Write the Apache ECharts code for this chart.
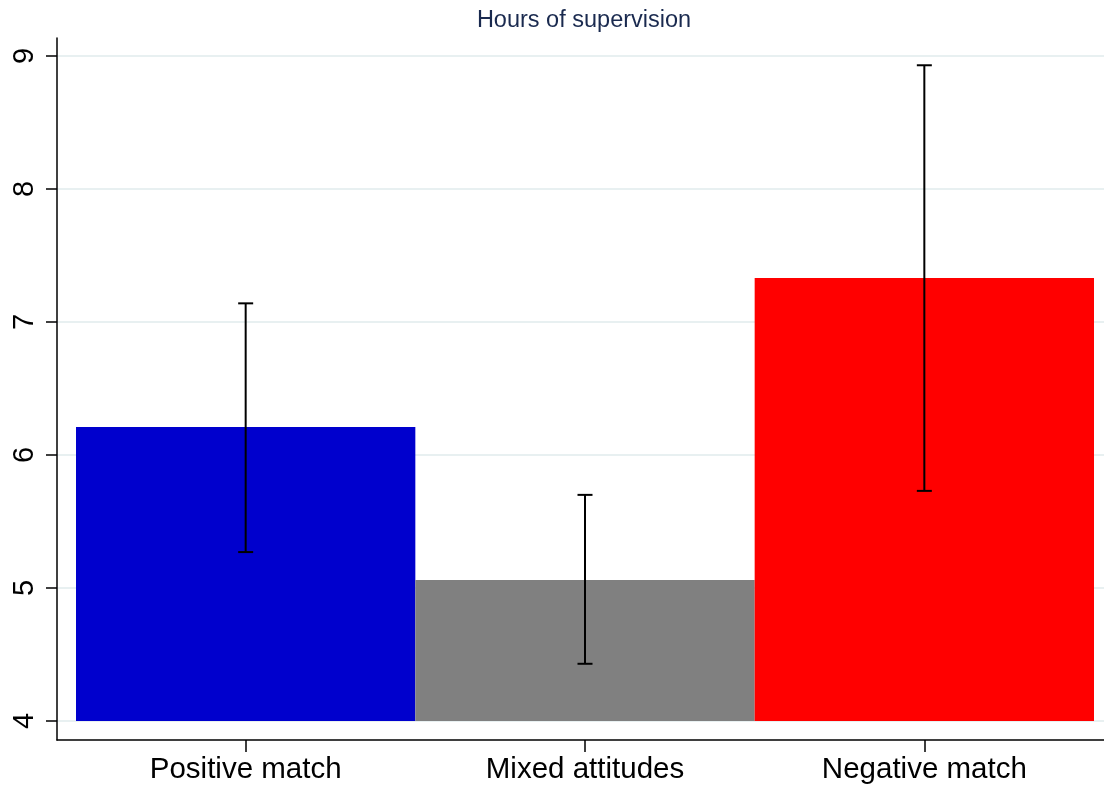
<!DOCTYPE html>
<html><head><meta charset="utf-8">
<script src="https://cdn.jsdelivr.net/npm/echarts@6/dist/echarts.min.js"></script>
<style>html,body{margin:0;padding:0;background:#fff}#c{width:1104px;height:789px}</style>
</head><body><div id="c"></div>
<script>
const title = 'Hours of supervision';
const categories = ['Positive match', 'Mixed attitudes', 'Negative match'];
const means = [6.21, 5.06, 7.33];
const ciLow = [5.27, 4.43, 5.73];
const ciHigh = [7.14, 5.70, 8.93];
const barColors = ['#0000cd', '#808080', '#ff0000'];
const barBase = 4;
const yTicks = [4, 5, 6, 7, 8, 9];
const yMin = 3.857, yMax = 9.135;

const font = '"Liberation Sans", Arial, Helvetica, sans-serif';
const chart = echarts.init(document.getElementById('c'), null, {renderer: 'canvas'});

const barData = categories.map((c, i) => [i, means[i]]);
const errData = categories.map((c, i) => [i, ciLow[i], ciHigh[i]]);

chart.setOption({
  animation: false,
  backgroundColor: '#fff',
  title: {
    text: title, left: 579, top: 4, textAlign: 'center',
    textStyle: {fontFamily: font, fontSize: 23.5, fontWeight: 'normal', color: '#1a2a4f'}
  },
  grid: [
    {left: 57, right: 0, top: 38, bottom: 49},
    {left: 76, right: 10, top: 38, bottom: 49}
  ],
  xAxis: [
    {gridIndex: 0, type: 'value', min: 0, max: 1,
      axisLine: {show: true, lineStyle: {color: '#000', width: 1.5}},
      axisTick: {show: false}, axisLabel: {show: false}, splitLine: {show: false}},
    {gridIndex: 1, type: 'category', data: categories,
      axisLine: {show: false},
      axisTick: {show: true, alignWithLabel: true, length: 12, lineStyle: {color: '#000', width: 1.5}},
      axisLabel: {fontFamily: font, fontSize: 29.5, color: '#000', margin: 15},
      splitLine: {show: false}}
  ],
  yAxis: [
    {gridIndex: 0, type: 'value', min: yMin, max: yMax,
      axisLine: {show: true, lineStyle: {color: '#000', width: 1.5}},
      axisTick: {show: true, length: 11, lineStyle: {color: '#000', width: 1.5},
        customValues: yTicks},
      axisLabel: {fontFamily: font, fontSize: 29, color: '#000', rotate: 90, margin: 18,
        customValues: yTicks, formatter: v => String(Math.round(v))},
      splitLine: {show: true, lineStyle: {color: '#e8f0f1', width: 2}}
    },
    {gridIndex: 1, type: 'value', min: yMin, max: yMax, show: false,
      splitLine: {show: false}}
  ],
  series: [
    {
      type: 'custom', xAxisIndex: 1, yAxisIndex: 1, data: barData,
      renderItem: (params, api) => {
        const i = api.value(0);
        const top = api.coord([i, api.value(1)]);
        const bot = api.coord([i, barBase]);
        const w = api.size([1, 0])[0];
        return {type: 'rect',
          shape: {x: top[0] - w / 2, y: top[1], width: w, height: bot[1] - top[1]},
          style: {fill: barColors[params.dataIndex]}};
      }
    },
    {
      type: 'custom', xAxisIndex: 1, yAxisIndex: 1, data: errData, z: 5,
      renderItem: (params, api) => {
        const i = api.value(0);
        const lo = api.coord([i, api.value(1)]);
        const hi = api.coord([i, api.value(2)]);
        const cap = 7.5;
        const st = {stroke: '#000', lineWidth: 2};
        return {type: 'group', children: [
          {type: 'line', shape: {x1: lo[0], y1: lo[1], x2: hi[0], y2: hi[1]}, style: st},
          {type: 'line', shape: {x1: lo[0] - cap, y1: lo[1], x2: lo[0] + cap, y2: lo[1]}, style: st},
          {type: 'line', shape: {x1: hi[0] - cap, y1: hi[1], x2: hi[0] + cap, y2: hi[1]}, style: st}
        ]};
      }
    }
  ]
});
</script></body></html>
